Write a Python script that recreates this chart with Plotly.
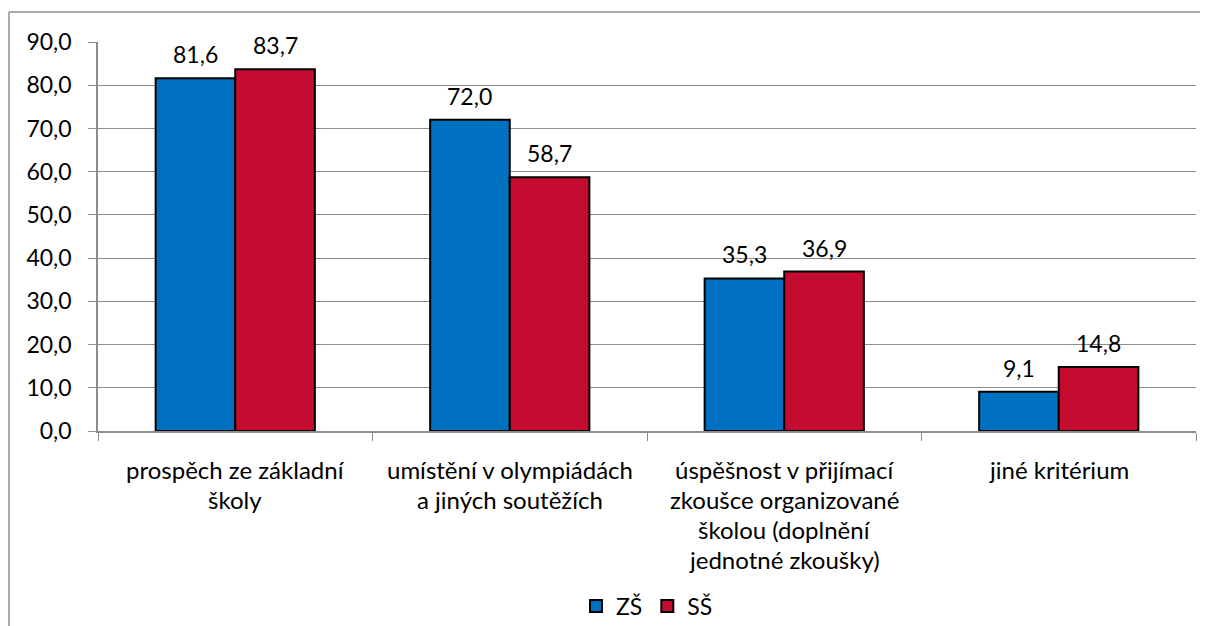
import plotly.graph_objects as go

categories = [
    "prospěch ze základní<br>školy",
    "umístění v olympiádách<br>a jiných soutěžích",
    "úspěšnost v přijímací<br>zkoušce organizované<br>školou (doplnění<br>jednotné zkoušky)",
    "jiné kritérium",
]
cat_keys = ["c1", "c2", "c3", "c4"]
zs_values = [81.6, 72.0, 35.3, 9.1]
ss_values = [83.7, 58.7, 36.9, 14.8]
series_names = ["ZŠ", "SŠ"]
colors = ["#0070C0", "#C40C30"]
y_ticks = [0, 10, 20, 30, 40, 50, 60, 70, 80, 90]

FONT = "Lato, Carlito, Calibri, sans-serif"
FS = 23
BARGAP = 0.42
# page body has an 8px margin; the figure is drawn offset by it
OFF = 8
W, H = 1208 - OFF, 626 - OFF
L, T = 98 - OFF, 42 - OFF
R = W - (1196 - OFF)
B = H - (431 - OFF)
pw, ph = W - L - R, H - T - B

fig = go.Figure()
for name, vals, col in zip(series_names, [zs_values, ss_values], colors):
    fig.add_trace(go.Bar(
        x=cat_keys, y=vals, name=name,
        marker=dict(color=col, line=dict(color="#000000", width=2)),
    ))

annotations = []
half = (1 - BARGAP) / 4
for si, vals in enumerate([zs_values, ss_values]):
    sign = -1 if si == 0 else 1
    for ci, v in enumerate(vals):
        annotations.append(dict(
            x=ci + sign * half, y=v, xref="x", yref="y",
            text=f"{v:.1f}".replace(".", ","), showarrow=False,
            yanchor="bottom", yshift=8,
            font=dict(family=FONT, size=FS, color="#000000"),
        ))

for key, label in zip(cat_keys, categories):
    for i, line in enumerate(label.split("<br>")):
        annotations.append(dict(
            x=key, y=0, xref="x", yref="y", text=line, showarrow=False,
            yanchor="top", yshift=-22 - 30 * i,
            font=dict(family=FONT, size=24, color="#000000"),
        ))

def px_x(p):
    return (p - OFF - L) / pw

def px_y(p):
    return (H - B - (p - OFF)) / ph

border = dict(color="#8C8C8C", width=1.5)
fig.update_layout(
    width=W, height=H,
    margin=dict(l=L, r=R, t=T, b=B, autoexpand=False),
    paper_bgcolor="white", plot_bgcolor="white",
    separators=", ",
    barmode="group", bargap=BARGAP, bargroupgap=0,
    font=dict(family=FONT, size=FS, color="#000000"),
    annotations=annotations,
    legend=dict(orientation="h", x=0.5, xanchor="center",
                y=px_y(606), yanchor="middle",
                font=dict(family=FONT, size=FS), itemwidth=30,
                traceorder="normal"),
    shapes=[
        dict(type="line", xref="paper", yref="paper",
             x0=px_x(9), x1=px_x(1220), y0=px_y(12), y1=px_y(12),
             line=border, layer="below"),
        dict(type="line", xref="paper", yref="paper",
             x0=px_x(9), x1=px_x(9), y0=px_y(12), y1=px_y(640),
             line=border, layer="below"),
    ],
    xaxis=dict(showticklabels=False, ticks="outside", tickson="boundaries",
               ticklen=8, tickcolor="#8C8C8C", showline=True,
               linecolor="#8C8C8C", linewidth=1.5, showgrid=False,
               automargin=False),
    yaxis=dict(range=[0, 90], tickvals=y_ticks, tickformat=".1f",
               ticks="outside", ticklen=8, tickcolor="#8C8C8C",
               showline=True, linecolor="#8C8C8C", linewidth=1.5,
               showgrid=True, gridcolor="#8C8C8C", gridwidth=1,
               zeroline=False, tickfont=dict(family=FONT, size=FS),
               ticklabelstandoff=12, automargin=False),
)

fig.write_html("out.html")
